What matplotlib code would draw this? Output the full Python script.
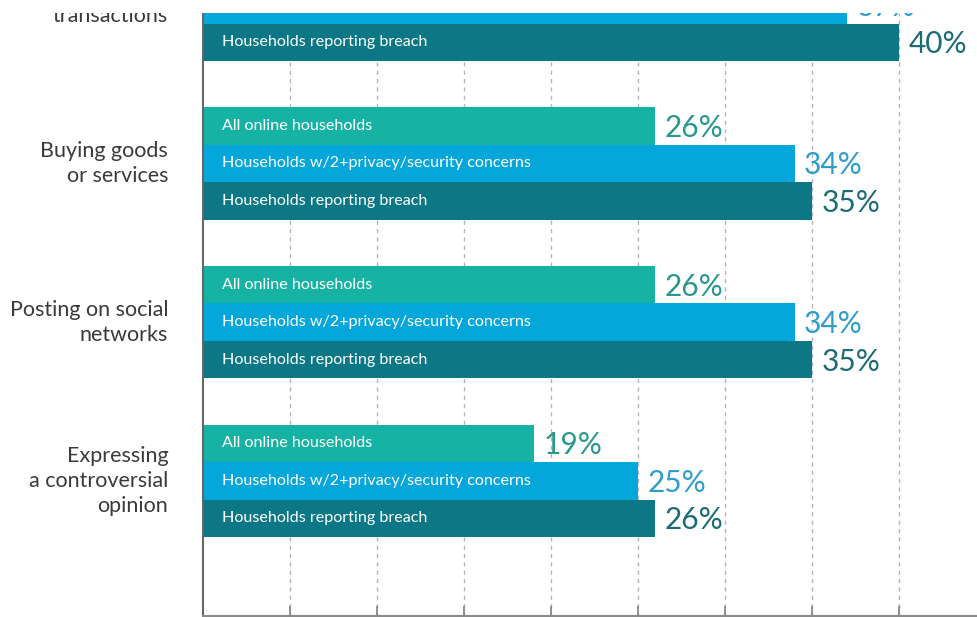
import numpy as np
import matplotlib
matplotlib.use("Agg")
import matplotlib.pyplot as plt
from matplotlib.patches import Rectangle

plt.rcParams['font.family'] = ['Lato', 'DejaVu Sans']

# data (top group only partly visible, its first bar is off the picture)
categories = ['transactions', 'Buying goods\nor services', 'Posting on social\nnetworks',
              'Expressing\na controversial\nopinion']
series = ['All online households', 'Households w/2+privacy/security concerns',
          'Households reporting breach']
all_online = [np.nan, 26, 26, 19]
concerns = [37, 34, 34, 25]
breach = [40, 35, 35, 26]
xticks = [5, 10, 15, 20, 25, 30, 35, 40]

bar_colors = ['#16b2a4', '#05a6d9', '#0c7885']
pct_colors = ['#2a978c', '#2f9dc9', '#1c6b75']

fig = plt.figure(figsize=(9.78, 6.17), dpi=100)
ax = fig.add_axes([203 / 978, 1 / 617, 775 / 978, 603 / 617])

pitch = 4.23
centers = np.arange(len(categories)) * pitch
values = [all_online, concerns, breach]

for k, (vals, col) in enumerate(zip(values, bar_colors)):
    ys = centers + (k - 1)
    ax.barh(ys, vals, height=1.0, color=col, zorder=2)
    for y, v in zip(ys, vals):
        if np.isnan(v):
            continue
        ax.text(1.1, y, series[k], color='white', fontsize=11.6,
                va='center', ha='left', zorder=3)
        ax.text(v + 0.55, y + 0.05, '%d%%' % v, color=pct_colors[k], fontsize=21.5,
                va='center', ha='left', zorder=3)

for c, lab in zip(centers, categories):
    yy = c + 0.3 if lab == 'transactions' else c
    ax.text(-2.0, yy, lab, ha='right', va='center', fontsize=15.5, color='#3a3a3a',
            linespacing=1.3, clip_on=False)

ax.set_xlim(0, 775 / 17.4)
ax.set_ylim(centers[-1] + 1.5 + 2.1, centers[0] + 0.22)

ax.set_xticks(xticks)
ax.set_yticks([])
ax.tick_params(axis='x', direction='in', length=7, width=1.3, color='#888888',
               labelbottom=False)
ax.xaxis.grid(True, color='#b5b5b5', linestyle=(0, (3, 3)), linewidth=1)
ax.set_axisbelow(True)

ax.spines['top'].set_visible(False)
ax.spines['right'].set_visible(False)
ax.spines['left'].set_color('#666666')
ax.spines['left'].set_linewidth(1.5)
ax.spines['bottom'].set_color('#8a8a8a')
ax.spines['bottom'].set_linewidth(1.5)

# white strip along the top edge, as in the cropped original
fig.add_artist(Rectangle((0, 1 - 13 / 617), 1, 13 / 617, transform=fig.transFigure,
                         facecolor='white', edgecolor='none', zorder=10))

fig.savefig('out.png', dpi=100)
